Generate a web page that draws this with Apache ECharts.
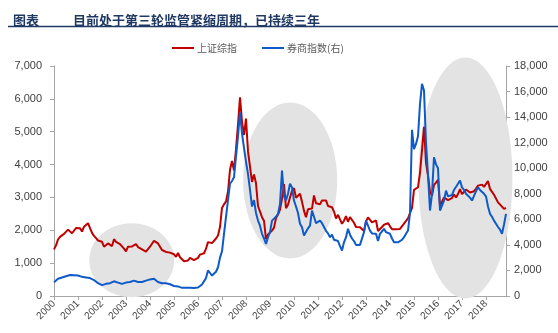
<!DOCTYPE html>
<html><head><meta charset="utf-8">
<script src="https://cdn.jsdelivr.net/npm/echarts@6/dist/echarts.min.js"></script>
<style>html,body{margin:0;padding:0;background:#fff}#c{width:558px;height:333px}</style>
</head><body><div id="c"></div>
<script>
// Monthly points starting Jan 2000 (one per month)
const startYear = 2000;
const shIndex = [
 1420,1540,1720,1800,1840,1890,1930,2020,2020,1910,1960,2070,
 2070,2060,1960,2110,2120,2215,2180,1920,1830,1760,1690,1750,
 1650,1500,1530,1600,1660,1520,1730,1650,1670,1580,1510,1440,
 1360,1500,1510,1510,1520,1580,1490,1480,1420,1370,1350,1400,
 1500,1590,1680,1740,1600,1560,1400,1390,1340,1400,1320,1340,
 1270,1190,1310,1180,1160,1060,1080,1080,1160,1160,1090,1100,
 1160,1260,1300,1300,1440,1640,1670,1610,1660,1750,1840,2100,
 2680,2790,2880,3180,3840,4110,3820,4470,5220,6050,5300,4900,
 5400,4400,4350,3470,3700,3430,2740,2780,2400,2290,1730,1870,
 1820,1990,2080,2370,2480,2630,2960,3410,2670,2780,3000,3200,
 3280,2990,3050,3110,2870,2590,2400,2640,2640,2660,3060,2820,
 2810,2790,2910,2930,2910,2740,2760,2700,2570,2360,2470,2330,
 2200,2290,2430,2260,2400,2370,2230,2100,2050,2090,2070,1980,
 2270,2390,2370,2240,2180,2300,1980,2000,2100,2170,2140,2220,
 2120,2030,2060,2030,2030,2040,2050,2200,2220,2360,2420,2680,
 3230,3210,3310,3750,4440,5150,4050,3660,3170,3050,3380,3450,
 3540,2740,2690,3000,2940,2920,2930,2980,3090,3000,3100,3250,
 3100,3160,3240,3220,3150,3120,3190,3270,3360,3350,3390,3320,
 3310,3500,3260,3170,3080,3100,2850,2880,2720,2650,2680
];
const brokerIndex = [
 1080,1200,1350,1400,1450,1500,1550,1600,1640,1600,1620,1660,
 1600,1550,1500,1480,1450,1420,1400,1340,1250,1100,1000,950,
 850,880,950,1050,1000,900,1150,1080,1050,1000,950,1000,
 1050,1000,1100,1150,1200,1130,1100,1150,1100,1150,1200,1250,
 1300,1320,1350,1250,1100,1080,1000,950,1000,950,920,850,
 780,700,750,680,640,620,650,680,640,620,620,640,
 660,750,900,1000,1400,2000,1800,1600,1700,1900,2250,3000,
 3500,4870,6200,7500,8800,9000,9300,10900,12500,14380,12700,11600,
 10500,9560,8300,7000,7500,6500,5900,5500,4870,4500,4080,4600,
 5000,5900,5800,6200,6430,7200,9820,7800,7470,8000,8780,8500,
 7470,7000,6500,5650,5380,4730,4800,5300,5500,6690,6200,5700,
 5650,5900,5700,5600,5100,4900,4600,4800,4400,4470,4300,3900,
 3560,4200,4600,5260,4800,4500,4300,4000,3950,4000,3900,5000,
 5900,5900,5120,4900,5000,4870,4300,4870,5000,5260,5000,5120,
 4870,4500,4210,4340,4200,4340,4400,4600,4870,5120,6500,13000,
 11500,11900,12500,15040,16600,16080,12000,9500,6690,8000,10860,10300,
 10000,6690,6800,7470,8250,7800,7730,7900,8300,8200,8780,9040,
 8500,8300,8000,8000,7700,7470,7600,8200,8510,8300,8250,8000,
 7800,7000,6430,6200,5900,5650,5400,5200,4870,5600,6430
];
// Highlight ellipses: [centre year, centre value (left axis), half-width in years, half-height in left units]
const highlights = [
 [2003.24, 1089, 1.77, 1126],
 [2009.84, 3515, 1.96, 2374],
 [2017.14, 3591, 1.96, 3667]
];
const seriesNames = ['上证综指', '券商指数(右)'];
const titleLabel = '图表';
const titleText = '目前处于第三轮监管紧缩周期，已持续三年';

const xs = shIndex.map((_, i) => startYear + i / 12);
const xMax = xs[xs.length - 1];
const fmt = v => v === 0 ? '0' : v.toLocaleString('en-US');
const axisGray = '#a6a6a6';
const labelColor = '#404040';

const chart = echarts.init(document.getElementById('c'), null, {renderer: 'canvas'});
chart.setOption({
  animation: false,
  title: [
    {text: titleLabel, left: 8, top: 9, textStyle: {fontSize: 13, fontWeight: 'bold', color: '#1F3864', fontFamily: 'Noto Sans CJK SC'}},
    {text: titleText, left: 68, top: 9, textStyle: {fontSize: 13, fontWeight: 'bold', color: '#1F3864', fontFamily: 'Noto Sans CJK SC'}}
  ],
  graphic: [{type: 'line', shape: {x1: 8, y1: 26.5, x2: 558, y2: 26.5}, style: {stroke: '#1F3864', lineWidth: 1.5}}],
  legend: {
    top: 38, left: 167, itemGap: 25, itemWidth: 22, itemHeight: 2, icon: 'rect',
    textStyle: {fontSize: 10, color: '#595959', fontFamily: 'Noto Sans CJK SC', padding: [0, 0, 0, -2]},
    data: seriesNames
  },
  grid: {left: 54, right: 52, top: 66, bottom: 37},
  xAxis: {
    type: 'value', min: startYear, max: xMax, interval: 1,
    axisLine: {lineStyle: {color: axisGray}},
    axisTick: {show: true, length: 4, lineStyle: {color: axisGray}},
    splitLine: {show: false},
    axisLabel: {rotate: 45, fontSize: 10, color: labelColor, margin: 6, showMaxLabel: false,
      formatter: v => Number.isInteger(v) ? String(v) : ''}
  },
  yAxis: [
    {type: 'value', min: 0, max: 7000, interval: 1000,
     axisLine: {show: true, lineStyle: {color: axisGray}},
     axisTick: {show: true, length: 4, lineStyle: {color: axisGray}},
     splitLine: {show: false},
     axisLabel: {fontSize: 11, color: labelColor, margin: 12, formatter: fmt}},
    {type: 'value', min: 0, max: 18000, interval: 2000, position: 'right',
     axisLine: {show: true, lineStyle: {color: axisGray}},
     axisTick: {show: true, length: 4, lineStyle: {color: axisGray}},
     splitLine: {show: false},
     axisLabel: {fontSize: 11, color: labelColor, margin: 8, formatter: fmt}}
  ],
  series: [
    {type: 'custom', z: 1, clip: false, silent: true, yAxisIndex: 0,
     data: highlights,
     renderItem: (params, api) => {
       const c = api.coord([api.value(0), api.value(1)]);
       const s = api.size([api.value(2), api.value(3)]);
       return {type: 'ellipse', shape: {cx: c[0], cy: c[1], rx: s[0], ry: s[1]}, style: {fill: '#e3e3e3'}};
     }},
    {name: seriesNames[0], type: 'line', z: 3, yAxisIndex: 0, showSymbol: false, symbol: 'none',
     lineStyle: {color: '#C00000', width: 2}, itemStyle: {color: '#C00000'},
     data: shIndex.map((v, i) => [xs[i], v])},
    {name: seriesNames[1], type: 'line', z: 4, yAxisIndex: 1, showSymbol: false, symbol: 'none',
     lineStyle: {color: '#0E5AC8', width: 2}, itemStyle: {color: '#0E5AC8'},
     data: brokerIndex.map((v, i) => [xs[i], v])}
  ]
});
</script></body></html>
